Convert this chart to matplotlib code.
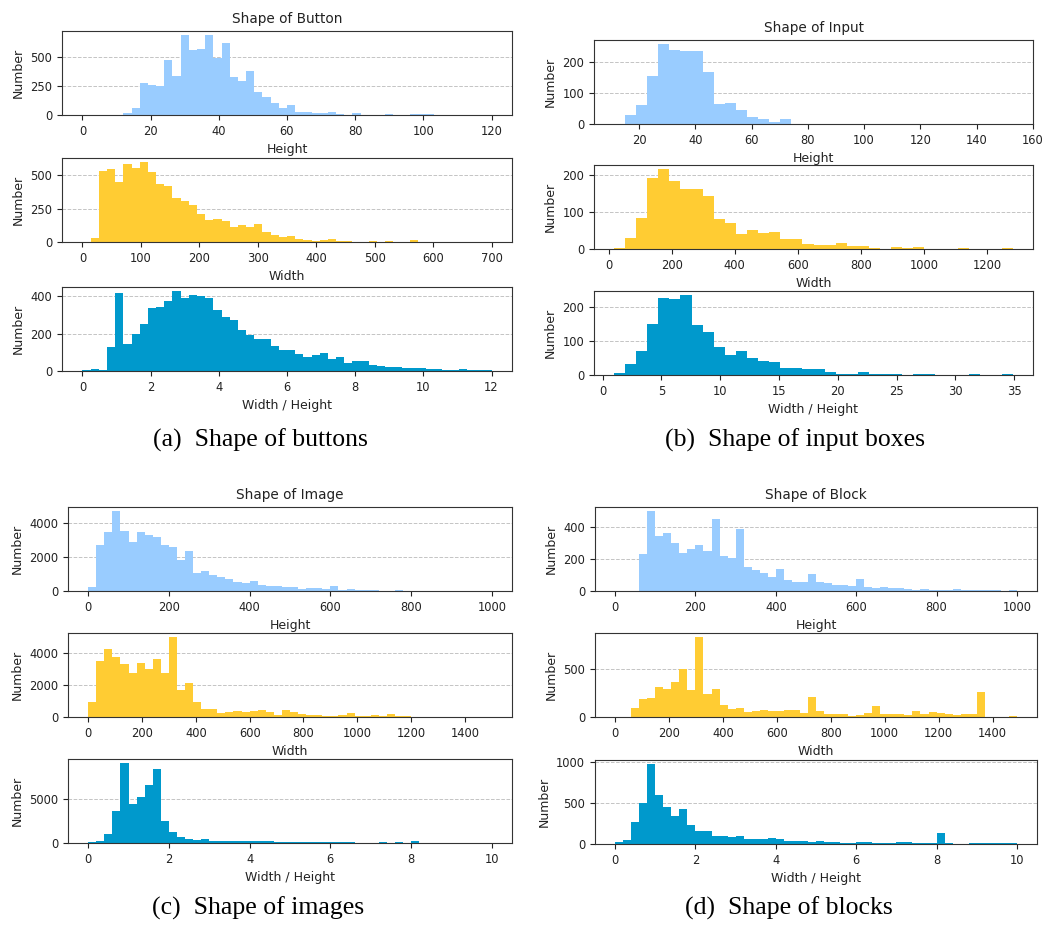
import matplotlib.pyplot as plt
import numpy as np

# histogram counts, one list per panel
# (a) buttons: 50 bins each
btn_h_range = (0, 120)
btn_h = [0, 0, 0, 0, 0, 15, 57, 275, 261, 250, 477, 338, 690, 557, 571,
         690, 489, 619, 332, 293, 383, 199, 156, 102, 62, 88, 26, 26, 14, 20,
         26, 11, 3, 15, 3, 2, 2, 8, 2, 2, 5, 8, 8, 1, 0, 0, 0, 0, 0, 0]
btn_w_range = (0, 700)
btn_w = [0, 27, 532, 544, 451, 585, 554, 598, 524, 432, 417, 329, 305, 276, 207,
         163, 171, 159, 115, 129, 115, 137, 76, 56, 34, 46, 24, 15, 10, 15,
         20, 10, 10, 3, 3, 8, 3, 7, 2, 2, 14, 1, 1, 0, 1, 0, 0, 0, 0, 1]
btn_r_range = (0, 12)
btn_r = [5, 9, 5, 129, 416, 144, 199, 250, 337, 344, 375, 428, 391, 407, 401,
         393, 324, 289, 275, 220, 194, 173, 173, 134, 115, 111, 92, 76, 83, 95,
         65, 76, 42, 53, 53, 33, 26, 21, 23, 18, 14, 14, 9, 9, 5, 5, 9, 5, 5, 8]

# (b) input boxes: 36 bins each
inp_h_range = (11.1, 152.9)
inp_h = [0, 30, 60, 154, 259, 239, 235, 235, 169, 66, 69, 44,
         24, 16, 7, 15, 0, 0, 0, 0, 0, 0, 0, 0,
         0, 0, 0, 0, 0, 0, 0, 0, 0, 0, 0, 1]
inp_w_range = (17, 1282)
inp_w = [3, 30, 83, 191, 215, 182, 160, 162, 143, 80, 71, 41,
         50, 44, 47, 27, 27, 13, 10, 10, 15, 7, 7, 3,
         0, 5, 3, 5, 0, 0, 1, 3, 0, 0, 1, 3]
inp_r_range = (0.96, 34.9)
inp_r = [6, 32, 71, 150, 225, 223, 234, 145, 126, 82, 59, 71,
         50, 41, 37, 20, 20, 17, 17, 9, 3, 3, 8, 2,
         2, 2, 0, 2, 2, 0, 0, 0, 2, 0, 0, 2]

# (c) images: 50 bins each
img_h_range = (0, 1000)
img_h = [220, 2745, 3500, 4730, 3560, 2900, 3500, 3340, 3200, 2745,
         2585, 1830, 2385, 1090, 1190, 975, 815, 695, 537, 477,
         596, 358, 318, 278, 240, 240, 140, 180, 180, 120,
         300, 80, 120, 60, 40, 30, 20, 20, 60, 5,
         5, 0, 0, 0, 0, 0, 0, 0, 0, 0]
img_w_range = (0, 1500)
img_w = [915, 3500, 4290, 3790, 3330, 2770, 3400, 3000, 3670, 2730,
         5020, 1710, 2145, 915, 520, 520, 230, 290, 355, 290,
         355, 415, 310, 125, 460, 310, 190, 125, 125, 85,
         85, 125, 230, 85, 85, 105, 60, 190, 60, 60,
         20, 10, 10, 10, 10, 0, 0, 0, 0, 0]
img_r_range = (0, 10)
img_r = [110, 265, 1060, 3600, 9130, 4430, 5265, 6590, 8410, 2500,
         1250, 645, 455, 380, 455, 265, 265, 265, 190, 265,
         265, 265, 190, 150, 150, 150, 150, 150, 150, 150,
         150, 150, 150, 30, 30, 30, 150, 30, 150, 30,
         265, 20, 20, 20, 20, 20, 20, 20, 20, 20]

# (d) blocks: 50 bins each
blk_h_range = (0, 1000)
blk_h = [0, 0, 0, 235, 502, 343, 366, 303, 241, 262,
         290, 248, 449, 222, 210, 387, 148, 133, 116, 85,
         138, 70, 59, 59, 104, 59, 49, 36, 40, 34,
         74, 25, 19, 25, 19, 19, 10, 8, 12, 8,
         8, 6, 12, 6, 6, 6, 6, 6, 3, 6]
blk_w_range = (0, 1490)
blk_w = [0, 0, 96, 185, 195, 308, 291, 363, 497, 281,
         829, 243, 288, 123, 86, 96, 51, 58, 75, 58,
         58, 75, 75, 41, 205, 58, 31, 31, 31, 14,
         21, 41, 110, 31, 31, 31, 21, 58, 31, 48,
         41, 31, 21, 31, 31, 264, 0, 0, 0, 10]
blk_r_range = (0, 10)
blk_r = [20, 53, 263, 498, 976, 603, 457, 340, 433, 231,
         154, 154, 97, 97, 85, 97, 57, 65, 57, 77,
         57, 36, 40, 40, 28, 36, 24, 24, 12, 12,
         24, 24, 12, 12, 12, 24, 24, 12, 12, 12,
         134, 12, 3, 3, 10, 10, 10, 10, 10, 10]

titles = ['Shape of Button', 'Shape of Input', 'Shape of Image', 'Shape of Block']
captions = ['(a)  Shape of buttons', '(b)  Shape of input boxes',
            '(c)  Shape of images', '(d)  Shape of blocks']
xlabels = ['Height', 'Width', 'Width / Height']
colors = ['#99ccff', '#ffcc33', '#0099cc']

panels = [
    [(btn_h_range, btn_h, [0, 250, 500], np.arange(0, 121, 20)),
     (btn_w_range, btn_w, [0, 250, 500], np.arange(0, 701, 100)),
     (btn_r_range, btn_r, [0, 200, 400], np.arange(0, 13, 2))],
    [(inp_h_range, inp_h, [0, 100, 200], np.arange(20, 161, 20)),
     (inp_w_range, inp_w, [0, 100, 200], np.arange(0, 1201, 200)),
     (inp_r_range, inp_r, [0, 100, 200], np.arange(0, 36, 5))],
    [(img_h_range, img_h, [0, 2000, 4000], np.arange(0, 1001, 200)),
     (img_w_range, img_w, [0, 2000, 4000], np.arange(0, 1401, 200)),
     (img_r_range, img_r, [0, 5000], np.arange(0, 11, 2))],
    [(blk_h_range, blk_h, [0, 200, 400], np.arange(0, 1001, 200)),
     (blk_w_range, blk_w, [0, 500], np.arange(0, 1401, 200)),
     (blk_r_range, blk_r, [0, 500, 1000], np.arange(0, 11, 2))],
]

# axes boxes in pixels: left, right, top of each of the three rows
W, H = 1054, 925
boxes = [
    (62, 512, [31, 158, 287]),
    (594, 1033, [40, 165, 291]),
    (68, 512, [507, 633, 759]),
    (595, 1037, [507, 633, 760]),
]
ax_h = 84
cap_pos = [(260, 440), (795, 440), (258, 908), (789, 908)]

fig = plt.figure(figsize=(W / 100, H / 100), dpi=100)

for p, (left, right, tops) in enumerate(boxes):
    for r in range(3):
        rng, counts, yt, xt = panels[p][r]
        edges = np.linspace(rng[0], rng[1], len(counts) + 1)
        ax = fig.add_axes([left / W, 1 - (tops[r] + ax_h) / H,
                           (right - left) / W, ax_h / H])
        ax.hist(edges[:-1], bins=edges, weights=counts, color=colors[r])
        span = rng[1] - rng[0]
        ax.set_xlim(rng[0] - 0.05 * span, rng[1] + 0.05 * span)
        ax.set_xticks(xt)
        ax.set_yticks(yt)
        ax.set_axisbelow(True)
        ax.yaxis.grid(True, linestyle='--', color='#c4c4c4', linewidth=0.7)
        ax.tick_params(labelsize=8.3, colors='#222222')
        ax.set_ylabel('Number', fontsize=9, color='#222222')
        ax.set_xlabel(xlabels[r], fontsize=9, color='#222222')
        for s in ax.spines.values():
            s.set_color('#333333')
        if r == 0:
            ax.set_title(titles[p], fontsize=9.8, color='#222222')
    fig.text(cap_pos[p][0] / W, 1 - cap_pos[p][1] / H, captions[p],
             ha='center', va='center', family='Liberation Serif', fontsize=18.5)

fig.savefig('out.png', dpi=100)
